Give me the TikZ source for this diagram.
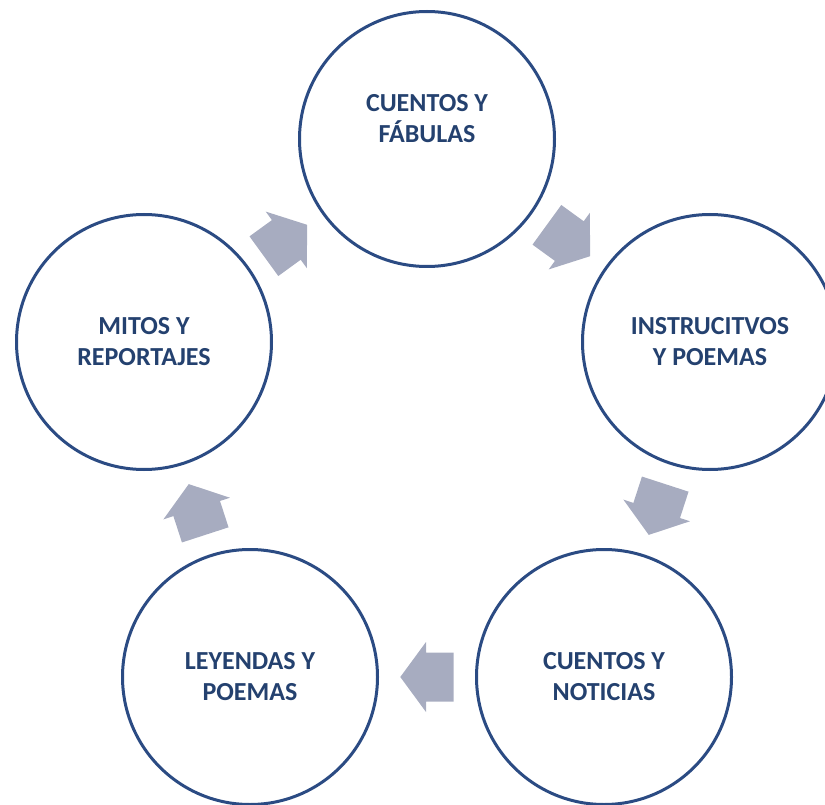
\documentclass[tikz,border=0pt]{standalone}
\usepackage{fontspec}
\setmainfont{Carlito}
\usetikzlibrary{calc}
\definecolor{ringblue}{HTML}{2B4B83}
\definecolor{textblue}{HTML}{24416F}
\definecolor{arrowgray}{HTML}{A7ACC0}
\tikzset{
  labeltext/.style={font=\fontsize{26}{31}\selectfont\bfseries, text=textblue, align=center},
  bubble/.style={circle, draw=ringblue, line width=3pt, fill=white, minimum size=255pt, inner sep=0pt, labeltext},
  cyclearrow/.pic={\fill[arrowgray] (-26.7,-24.5) -- (1,-24.5) -- (1,-35) -- (26.7,0) -- (1,35) -- (1,24.5) -- (-26.7,24.5) -- cycle;}
}
\begin{document}
\begin{tikzpicture}[x=1pt,y=-1pt]
\useasboundingbox (0,0) rectangle (825,805);
\begin{scope}
\clip (0,0) rectangle (825,805);
\node[bubble] (top) at (427,139) {};
\node[labeltext] (toptext) at ([yshift=20pt]top.center) {CUENTOS Y\\FÁBULAS};
\node[bubble] (right) at (710,342) {INSTRUCITVOS\\Y POEMAS};
\node[bubble] (bright) at (604,677) {CUENTOS Y\\NOTICIAS};
\node[bubble] (bleft) at (250,677) {LEYENDAS Y\\POEMAS};
\node[bubble] (left) at (144,342) {MITOS Y\\REPORTAJES};
\pic[rotate=-36] at ($(top)!0.5!(right)$) {cyclearrow};
\pic[rotate=-108] at ($(right)!0.5!(bright)$) {cyclearrow};
\pic[rotate=180] at ($(bright)!0.5!(bleft)$) {cyclearrow};
\pic[rotate=108] at ($(bleft)!0.5!(left)$) {cyclearrow};
\pic[rotate=36] at ($(left)!0.5!(top)$) {cyclearrow};
\end{scope}
\end{tikzpicture}
\end{document}
